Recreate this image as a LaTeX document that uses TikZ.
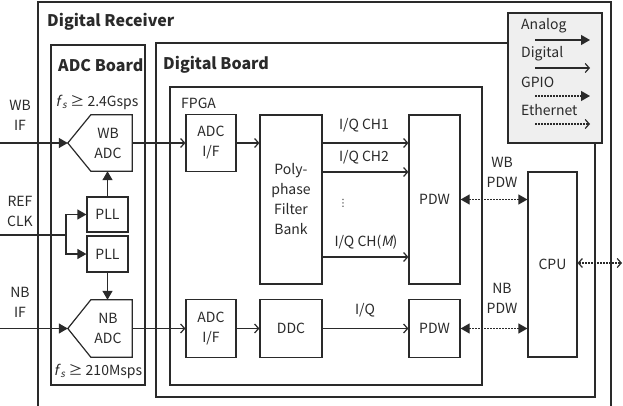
\documentclass[tikz,border=0pt]{standalone}
\usepackage{fontspec}
\setmainfont{Noto Sans CJK KR}
\newfontfamily\itfont[FakeSlant=0.2]{Noto Sans CJK KR}
\newfontfamily\symfont{DejaVu Sans}
\usetikzlibrary{arrows.meta,calc}
\definecolor{ln}{HTML}{2A2A2A}
\definecolor{lg}{HTML}{EFEFEF}
\begin{document}
\begin{tikzpicture}[x=1pt,y=-1pt,
  every node/.style={font=\fontsize{14}{20}\selectfont, text=ln},
  ttl/.style={font=\fontsize{16}{20}\selectfont\bfseries, anchor=west, inner sep=0pt},
  lbl/.style={inner sep=0pt, align=center},
  blk/.style={draw=ln, line width=1.2pt, inner sep=0pt, align=center},
  boardline/.style={draw=ln, line width=1.2pt},
  analog/.style={draw=ln, line width=1.2pt, -{Triangle[length=9pt,width=10pt]}},
  digital/.style={draw=ln, line width=1.2pt, -{Straight Barb[length=4pt,width=9pt,line width=1.2pt]}},
  gpioone/.style={draw=ln, line width=1.2pt, dash pattern=on 1.6pt off 1.4pt, -{Triangle[length=9pt,width=10pt]}},
  gpiotwo/.style={draw=ln, line width=1.2pt, dash pattern=on 1.6pt off 1.4pt, {Triangle[length=9pt,width=10pt]}-{Triangle[length=9pt,width=10pt]}},
  etherone/.style={draw=ln, line width=1.2pt, dash pattern=on 1.6pt off 1.4pt, -{Straight Barb[length=4pt,width=9pt,line width=1.2pt]}},
  ethertwo/.style={draw=ln, line width=1.2pt, dash pattern=on 1.6pt off 1.4pt, {Straight Barb[length=4pt,width=9pt,line width=1.2pt]}-{Straight Barb[length=4pt,width=9pt,line width=1.2pt]}},
  legtxt/.style={inner sep=0pt, anchor=west, font=\fontsize{14}{16}\selectfont},
]
\useasboundingbox (0,0) rectangle (623,406);
\fill[white] (0,0) rectangle (623,406);

% frames
\draw[boardline] (38,406) -- (38,2) -- (611,2) -- (611,406);
\draw[boardline] (51,45) rectangle (145,385);
\draw[boardline] (156,43) rectangle (595,397);
\draw[boardline] (170,87) rectangle (482,385);

% titles
\node[ttl] (tdr) at (47,22) {Digital Receiver};
\node[ttl] (tadc) at (58,65) {ADC Board};
\node[ttl] (tdb) at (163,65) {Digital Board};
\node[lbl, anchor=west] (tfpga) at (181,103) {FPGA};
\node[lbl] (fs1) at (97,102) {{\itfont f\kern2pt}\textsubscript{\itfont s} ≥ 2.4Gsps};
\node[lbl] (fs2) at (98,371) {{\itfont f\kern2pt}\textsubscript{\itfont s} ≥ 210Msps};

% ADC board blocks
\node[minimum width=64, minimum height=56, inner sep=0pt] (wbadc) at (100,143) {};
\draw[boardline] (wbadc.west) -- ($(wbadc.north west)+(23,0)$) -- (wbadc.north east) -- (wbadc.south east) -- ($(wbadc.south west)+(23,0)$) -- cycle;
\node[lbl] (wbadct) at (108,143) {WB\\ADC};
\node[minimum width=64, minimum height=57, inner sep=0pt] (nbadc) at (100,328.5) {};
\draw[boardline] (nbadc.west) -- ($(nbadc.north west)+(23,0)$) -- (nbadc.north east) -- (nbadc.south east) -- ($(nbadc.south west)+(23,0)$) -- cycle;
\node[lbl] (nbadct) at (108,328.5) {NB\\ADC};
\node[blk, minimum width=41, minimum height=35] (pll1) at (107.5,214.5) {PLL};
\node[blk, minimum width=41, minimum height=36] (pll2) at (107.5,254) {PLL};

% Digital board blocks
\node[blk, minimum width=50, minimum height=57] (adcif1) at (211,143) {ADC\\I/F};
\node[blk, minimum width=62, minimum height=169] (pfb) at (291,199.5) {Poly-\\phase\\Filter\\Bank};
\node[blk, minimum width=51, minimum height=169] (pdw1) at (434.5,199.5) {PDW};
\node[blk, minimum width=50, minimum height=58] (adcif2) at (211,328.5) {ADC\\I/F};
\node[blk, minimum width=62, minimum height=58] (ddc) at (291,328.5) {DDC};
\node[blk, minimum width=51, minimum height=58] (pdw2) at (434.5,328.5) {PDW};
\node[blk, minimum width=49, minimum height=185] (cpu) at (552.5,264.5) {CPU};

% inputs
\node[lbl] (wbif) at (20,115) {WB\\IF};
\node[lbl] (refclk) at (20,211) {REF\\CLK};
\node[lbl] (nbif) at (20,302) {NB\\IF};
\coordinate (wbin) at (0,143);
\coordinate (nbin) at (0,328.5);
\coordinate (refin) at (0,235);
\coordinate (refsplit) at (66,235);
\draw[analog] (wbin) -- (wbadc.west);
\draw[analog] (nbin) -- (nbadc.west);
\draw[boardline] (refin) -- (refsplit);
\draw[analog] (refsplit) |- (pll1.west);
\draw[analog] (refsplit) |- (pll2.west);
\draw[analog] (pll1.north) -- (pll1.north |- wbadc.south);
\draw[analog] (pll2.south) -- (pll2.south |- nbadc.north);

% digital paths
\draw[digital] (wbadc.east) -- (adcif1.west);
\draw[digital] (adcif1.east) -- (adcif1.east -| pfb.west);
\draw[digital] (nbadc.east) -- (adcif2.west);
\draw[digital] (adcif2.east) -- (ddc.west);
\draw[digital] (ddc.east) -- (pdw2.west);
\coordinate (ch1) at (0,143);
\coordinate (ch2) at (0,172);
\coordinate (chm) at (0,257);
\draw[digital] (pfb.east |- ch1) -- (pdw1.west |- ch1);
\draw[digital] (pfb.east |- ch2) -- (pdw1.west |- ch2);
\draw[digital] (pfb.east |- chm) -- (pdw1.west |- chm);
\node[lbl] (lch1) at (364,125) {I/Q CH1};
\node[lbl] (lch2) at (364,157) {I/Q CH2};
\node[lbl, font=\fontsize{10}{12}\symfont] (ldots) at (343,203) {⋮};
\node[lbl] (lchm) at (366,242) {I/Q CH({\itfont M})};
\node[lbl] (liq) at (365,310) {I/Q};

% GPIO / Ethernet
\draw[gpiotwo] (pdw1.east) -- (pdw1.east -| cpu.west);
\draw[gpiotwo] (pdw2.east) -- (pdw2.east -| cpu.west);
\node[lbl] (lwbp) at (502,172) {WB\\PDW};
\node[lbl] (lnbp) at (502,298) {NB\\PDW};
\coordinate (ethy) at (0,263);
\coordinate (ethout) at (622,263);
\draw[ethertwo] (cpu.east |- ethy) -- (ethout);

% legend
\node[draw=ln, line width=1.2pt, fill=lg, minimum width=94, minimum height=130, inner sep=0pt] (legend) at (555,78) {};
\node[legtxt] (tan) at (521,26) {Analog};
\node[legtxt] (tdg) at (521,54) {Digital};
\node[legtxt] (tgp) at (521,82) {GPIO};
\node[legtxt] (tet) at (521,110) {Ethernet};
\coordinate (a1) at (535,40); \coordinate (a2) at (590,40);
\coordinate (d1) at (535,68); \coordinate (d2) at (590,68);
\coordinate (g1) at (535,96); \coordinate (g2) at (590,96);
\coordinate (e1) at (535,124); \coordinate (e2) at (590,124);
\draw[analog] (a1) -- (a2);
\draw[digital] (d1) -- (d2);
\draw[gpioone] (g1) -- (g2);
\draw[etherone] (e1) -- (e2);
\end{tikzpicture}
\end{document}
